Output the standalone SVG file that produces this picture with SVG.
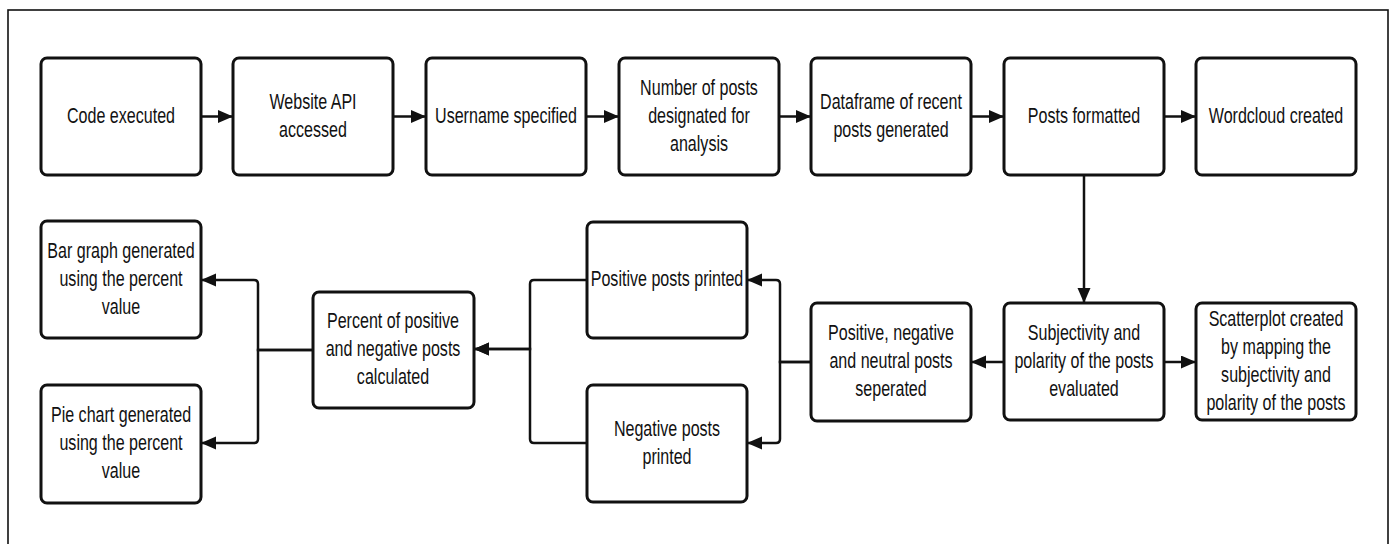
<svg xmlns="http://www.w3.org/2000/svg" width="1394" height="544" viewBox="0 0 1394 544">
<style>
.frame{fill:none;stroke:#111;stroke-width:1.6}
.box{fill:#fff;stroke:#111;stroke-width:3}
.lbl{font-family:"Liberation Sans",Arial,sans-serif;font-size:22px;fill:#111;text-anchor:middle}
.con{fill:none;stroke:#111;stroke-width:2.5}
</style>
<defs>
<marker id="ah" markerUnits="userSpaceOnUse" markerWidth="16" markerHeight="14" refX="15" refY="6.5" orient="auto">
<path d="M0,0 L15,6.5 L0,13 z" fill="#111"/>
</marker>
</defs>
<rect width="1394" height="544" fill="#fff"/>
<rect class="frame" x="8" y="10" width="1380" height="560"/>

<g id="connectors">
<path class="con" d="M201,116.5 H233" marker-end="url(#ah)"/>
<path class="con" d="M393,116.5 H426" marker-end="url(#ah)"/>
<path class="con" d="M586,116.5 H619" marker-end="url(#ah)"/>
<path class="con" d="M779,116.5 H811" marker-end="url(#ah)"/>
<path class="con" d="M971,116.5 H1004" marker-end="url(#ah)"/>
<path class="con" d="M1164,116.5 H1196" marker-end="url(#ah)"/>
<path class="con" d="M1084,175 V303" marker-end="url(#ah)"/>
<path class="con" d="M1004,362 H971" marker-end="url(#ah)"/>
<path class="con" d="M1164,362 H1196" marker-end="url(#ah)"/>
<path class="con" d="M811,362 H780 V284 Q780,280 776,280 H747" marker-end="url(#ah)"/>
<path class="con" d="M811,362 H780 V439 Q780,443 776,443 H747" marker-end="url(#ah)"/>
<path class="con" d="M587,280 H534 Q530,280 530,284 V349 H474" marker-end="url(#ah)"/>
<path class="con" d="M587,443 H534 Q530,443 530,439 V349 H474" marker-end="url(#ah)"/>
<path class="con" d="M313,350 H258 V284 Q258,280 254,280 H201" marker-end="url(#ah)"/>
<path class="con" d="M313,350 H258 V439 Q258,443 254,443 H201" marker-end="url(#ah)"/>
</g>

<g id="n1"><rect class="box" x="41" y="58" width="160" height="117" rx="6"/>
<text class="lbl" transform="translate(121,0) scale(0.73,1)"><tspan x="0" y="123.5">Code executed</tspan></text></g>
<g id="n2"><rect class="box" x="233" y="58" width="160" height="117" rx="6"/>
<text class="lbl" transform="translate(313,0) scale(0.73,1)"><tspan x="0" y="109">Website API</tspan><tspan x="0" y="137">accessed</tspan></text></g>
<g id="n3"><rect class="box" x="426" y="58" width="160" height="117" rx="6"/>
<text class="lbl" transform="translate(506,0) scale(0.73,1)"><tspan x="0" y="123.5">Username specified</tspan></text></g>
<g id="n4"><rect class="box" x="619" y="58" width="160" height="117" rx="6"/>
<text class="lbl" transform="translate(699,0) scale(0.73,1)"><tspan x="0" y="95">Number of posts</tspan><tspan x="0" y="123">designated for</tspan><tspan x="0" y="151">analysis</tspan></text></g>
<g id="n5"><rect class="box" x="811" y="58" width="160" height="117" rx="6"/>
<text class="lbl" transform="translate(891,0) scale(0.73,1)"><tspan x="0" y="109">Dataframe of recent</tspan><tspan x="0" y="137">posts generated</tspan></text></g>
<g id="n6"><rect class="box" x="1004" y="58" width="160" height="117" rx="6"/>
<text class="lbl" transform="translate(1084,0) scale(0.73,1)"><tspan x="0" y="123.5">Posts formatted</tspan></text></g>
<g id="n7"><rect class="box" x="1196" y="58" width="160" height="117" rx="6"/>
<text class="lbl" transform="translate(1276,0) scale(0.73,1)"><tspan x="0" y="123.5">Wordcloud created</tspan></text></g>

<g id="n8"><rect class="box" x="1004" y="303" width="160" height="117" rx="6"/>
<text class="lbl" transform="translate(1084,0) scale(0.73,1)"><tspan x="0" y="340">Subjectivity and</tspan><tspan x="0" y="368">polarity of the posts</tspan><tspan x="0" y="396">evaluated</tspan></text></g>
<g id="n9"><rect class="box" x="1196" y="303" width="160" height="117" rx="6"/>
<text class="lbl" transform="translate(1276,0) scale(0.73,1)"><tspan x="0" y="326">Scatterplot created</tspan><tspan x="0" y="354">by mapping the</tspan><tspan x="0" y="382">subjectivity and</tspan><tspan x="0" y="410">polarity of the posts</tspan></text></g>
<g id="n10"><rect class="box" x="811" y="303" width="160" height="118" rx="6"/>
<text class="lbl" transform="translate(891,0) scale(0.73,1)"><tspan x="0" y="340.5">Positive, negative</tspan><tspan x="0" y="368.5">and neutral posts</tspan><tspan x="0" y="396.5">seperated</tspan></text></g>
<g id="n11"><rect class="box" x="587" y="222" width="160" height="116" rx="6"/>
<text class="lbl" transform="translate(667,0) scale(0.73,1)"><tspan x="0" y="286">Positive posts printed</tspan></text></g>
<g id="n12"><rect class="box" x="587" y="385" width="160" height="117" rx="6"/>
<text class="lbl" transform="translate(667,0) scale(0.73,1)"><tspan x="0" y="436">Negative posts</tspan><tspan x="0" y="464">printed</tspan></text></g>
<g id="n13"><rect class="box" x="313" y="292" width="161" height="116" rx="6"/>
<text class="lbl" transform="translate(393,0) scale(0.73,1)"><tspan x="0" y="328.5">Percent of positive</tspan><tspan x="0" y="356.5">and negative posts</tspan><tspan x="0" y="384.5">calculated</tspan></text></g>
<g id="n14"><rect class="box" x="41" y="221" width="160" height="117" rx="6"/>
<text class="lbl" transform="translate(121,0) scale(0.73,1)"><tspan x="0" y="258">Bar graph generated</tspan><tspan x="0" y="286">using the percent</tspan><tspan x="0" y="314">value</tspan></text></g>
<g id="n15"><rect class="box" x="41" y="385" width="160" height="118" rx="6"/>
<text class="lbl" transform="translate(121,0) scale(0.73,1)"><tspan x="0" y="422.5">Pie chart generated</tspan><tspan x="0" y="450.5">using the percent</tspan><tspan x="0" y="478.5">value</tspan></text></g>
</svg>
